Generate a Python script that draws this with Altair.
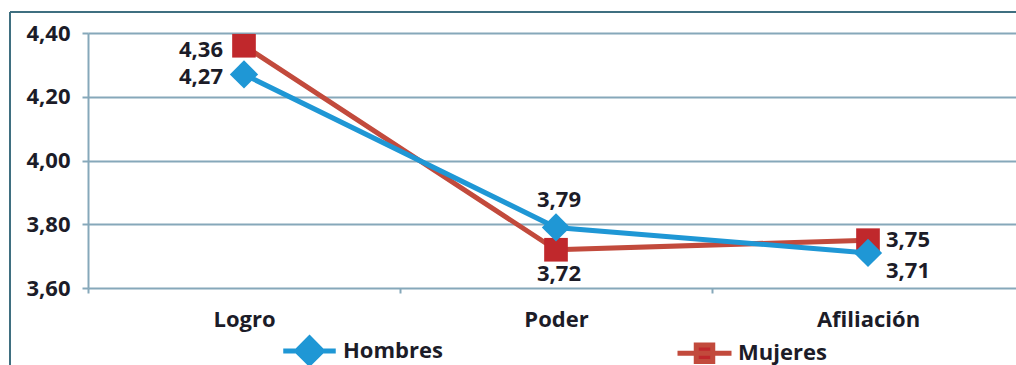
import altair as alt
import pandas as pd

# --- data ---------------------------------------------------------------
categorias = ["Logro", "Poder", "Afiliación"]
series = ["Hombres", "Mujeres"]
hombres = [4.27, 3.79, 3.71]
mujeres = [4.36, 3.72, 3.75]
ticks_y = [3.6, 3.8, 4.0, 4.2, 4.4]

df = pd.DataFrame({
    "categoria": categorias * 2,
    "serie": ["Hombres"] * len(categorias) + ["Mujeres"] * len(categorias),
    "valor": hombres + mujeres,
})
df["etiqueta"] = df["valor"].map(lambda v: f"{v:.2f}".replace(".", ","))

# --- styling ------------------------------------------------------------
FUENTE = "Open Sans"
TEXTO = "#1c1c28"
GRID = "#86a8ba"
MARCO = "#3f6f80"
color_linea = {"Hombres": "#1f97d5", "Mujeres": "#c24a3c"}
color_marca = {"Hombres": "#1f97d5", "Mujeres": "#c0282c"}

# legend symbols: a short line segment with the series marker in the middle
sym_hombres = "M-1.75,0H1.75M0,-0.85L0.85,0L0,0.85L-0.85,0Z"
sym_mujeres = "M-1.8,0H1.8M-0.55,-0.55H0.55V0.55H-0.55Z"

x_enc = alt.X(
    "categoria:N",
    sort=categorias,
    title=None,
    scale=alt.Scale(type="band", paddingInner=0, paddingOuter=0),
    axis=alt.Axis(
        labelAngle=0, domain=False, grid=False,
        ticks=True, tickBand="extent", tickSize=5, tickWidth=2, tickColor=GRID,
        labelFont=FUENTE, labelFontSize=22, labelFontWeight="bold",
        labelColor=TEXTO, labelPadding=16,
    ),
)
y_enc = alt.Y(
    "valor:Q",
    title=None,
    scale=alt.Scale(domain=[3.6, 4.4], nice=False, zero=False),
    axis=alt.Axis(
        values=ticks_y,
        labelExpr="replace(format(datum.value, '.2f'), '.', ',')",
        grid=True, gridColor=GRID, gridWidth=2,
        domainColor=GRID, domainWidth=2,
        tickColor=GRID, tickWidth=2, tickSize=6,
        labelFont=FUENTE, labelFontSize=22, labelFontWeight="bold",
        labelColor=TEXTO, labelPadding=12,
    ),
)

base = alt.Chart(df)

capas = []
# draw order: Mujeres first, Hombres on top
for serie, forma, tam in [("Mujeres", "square", 560), ("Hombres", "diamond", 800)]:
    sub = base.transform_filter(alt.datum.serie == serie)
    capas.append(
        sub.mark_line(strokeWidth=5, color=color_linea[serie]).encode(x=x_enc, y=y_enc)
    )
    capas.append(
        sub.mark_point(shape=forma, filled=True, size=tam, opacity=1,
                       color=color_marca[serie]).encode(x=x_enc, y=y_enc)
    )

# value labels: placement per point (align, dx, dy)
colocacion = {
    ("Logro", "Mujeres"): ("right", -21, 4),
    ("Logro", "Hombres"): ("right", -21, 3),
    ("Poder", "Hombres"): ("center", 3, -27),
    ("Poder", "Mujeres"): ("center", 3, 24),
    ("Afiliación", "Mujeres"): ("left", 18, 0),
    ("Afiliación", "Hombres"): ("left", 18, 18),
}
for (cat, serie), (al, dx, dy) in colocacion.items():
    capas.append(
        base.transform_filter(
            (alt.datum.categoria == cat) & (alt.datum.serie == serie)
        ).mark_text(
            align=al, baseline="middle", dx=dx, dy=dy,
            font=FUENTE, fontSize=22, fontWeight="bold", color=TEXTO,
        ).encode(x=x_enc, y=y_enc, text="etiqueta:N")
    )

# legend (no marks of its own, only the legend entries)
leyenda_def = alt.Legend(
    orient="none", legendX=204, legendY=300, direction="horizontal",
    title=None, symbolSize=900, symbolStrokeWidth=5,
    labelOffset=16, columnPadding=224,
    labelFont=FUENTE, labelFontSize=22, labelFontWeight="bold", labelColor=TEXTO,
)
capas.append(
    base.transform_filter("false").mark_point(filled=True, opacity=1).encode(
        fill=alt.Fill("serie:N", scale=alt.Scale(domain=series, range=[color_marca[s] for s in series]), legend=leyenda_def),
        stroke=alt.Stroke("serie:N", scale=alt.Scale(domain=series, range=[color_linea[s] for s in series]), legend=leyenda_def),
        shape=alt.Shape("serie:N", scale=alt.Scale(domain=series, range=[sym_hombres, sym_mujeres]), legend=leyenda_def),
    )
)

# outer frame (left and top edges)
uno = alt.Chart(pd.DataFrame({"k": [0]}))
capas.append(uno.mark_rule(color=MARCO, strokeWidth=2).encode(
    x=alt.value(-78), y=alt.value(-21), y2=alt.value(400)))
capas.append(uno.mark_rule(color=MARCO, strokeWidth=2).encode(
    x=alt.value(-78), x2=alt.value(1000), y=alt.value(-21)))

chart = alt.layer(*capas).properties(
    width=936, height=255,
    autosize=alt.AutoSizeParams(type="none"),
    padding={"left": 88, "top": 33, "right": -8, "bottom": 77},
    background="white",
).configure_view(stroke=None)

chart.save("out.html", embed_options={"renderer": "svg", "actions": False})
